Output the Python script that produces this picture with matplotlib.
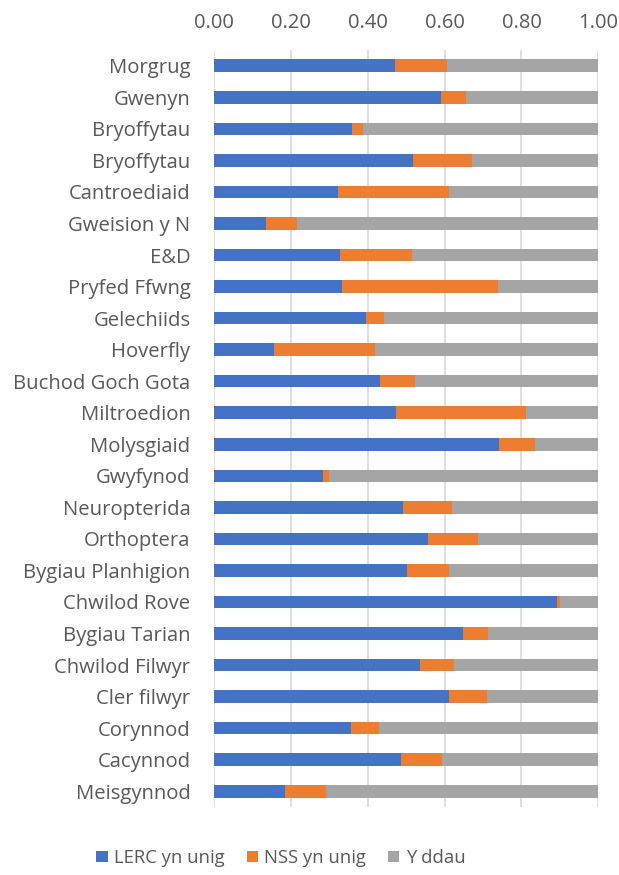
import matplotlib
matplotlib.use("Agg")
import matplotlib.pyplot as plt
import numpy as np

categories = ["Morgrug", "Gwenyn", "Bryoffytau", "Bryoffytau", "Cantroediaid",
              "Gweision y N", "E&D", "Pryfed Ffwng", "Gelechiids", "Hoverfly",
              "Buchod Goch Gota", "Miltroedion", "Molysgiaid", "Gwyfynod",
              "Neuropterida", "Orthoptera", "Bygiau Planhigion", "Chwilod Rove",
              "Bygiau Tarian", "Chwilod Filwyr", "Cler filwyr", "Corynnod",
              "Cacynnod", "Meisgynnod"]
lerc = [0.471, 0.591, 0.360, 0.519, 0.323, 0.135, 0.327, 0.333, 0.396, 0.157,
        0.433, 0.474, 0.742, 0.284, 0.492, 0.558, 0.503, 0.893, 0.649, 0.537,
        0.612, 0.357, 0.487, 0.186]
nss = [0.135, 0.066, 0.029, 0.153, 0.289, 0.081, 0.189, 0.407, 0.047, 0.263,
       0.090, 0.339, 0.094, 0.015, 0.127, 0.129, 0.109, 0.007, 0.064, 0.087,
       0.099, 0.072, 0.107, 0.106]
both = [1 - a - b for a, b in zip(lerc, nss)]
series_names = ["LERC yn unig", "NSS yn unig", "Y ddau"]
xticks = [0.0, 0.2, 0.4, 0.6, 0.8, 1.0]

plt.rcParams['font.family'] = ['Open Sans', 'DejaVu Sans']
fig = plt.figure(figsize=(6.19, 8.75), dpi=100)
ax = fig.add_axes([214/619, 1 - 807/875, (598.3-214)/619, (807-50)/875])

y = np.arange(len(categories))
colors = ["#4472C4", "#ED7D31", "#A5A5A5"]
h = 0.4
ax.barh(y, lerc, height=h, color=colors[0], label=series_names[0], zorder=3)
ax.barh(y, nss, left=lerc, height=h, color=colors[1], label=series_names[1], zorder=3)
left2 = [a + b for a, b in zip(lerc, nss)]
ax.barh(y, both, left=left2, height=h, color=colors[2], label=series_names[2], zorder=3)

ax.set_ylim(len(categories) - 0.5, -0.5)
ax.set_xlim(0, 1.0)
ax.set_yticks(y)
ax.set_yticklabels(categories, fontsize=14.6, color="#595959")
ax.set_xticks(xticks)
ax.set_xticklabels([f"{t:.2f}" for t in xticks], fontsize=14.5, color="#595959")
ax.xaxis.tick_top()
ax.tick_params(axis='x', length=0, pad=12)
ax.tick_params(axis='y', length=0, pad=17)
for s in ax.spines.values():
    s.set_visible(False)
ax.grid(axis='x', color="#D9D9D9", linewidth=1.2, zorder=0)

handles, labels = ax.get_legend_handles_labels()
fig.legend(handles, labels, loc='center', bbox_to_anchor=(281/619, 1 - 858/875), ncol=3,
           frameon=False, fontsize=13.3, handlelength=0.6, handleheight=0.6,
           columnspacing=1.2, handletextpad=0.35, labelcolor="#595959")

fig.savefig("out.png", dpi=100)
